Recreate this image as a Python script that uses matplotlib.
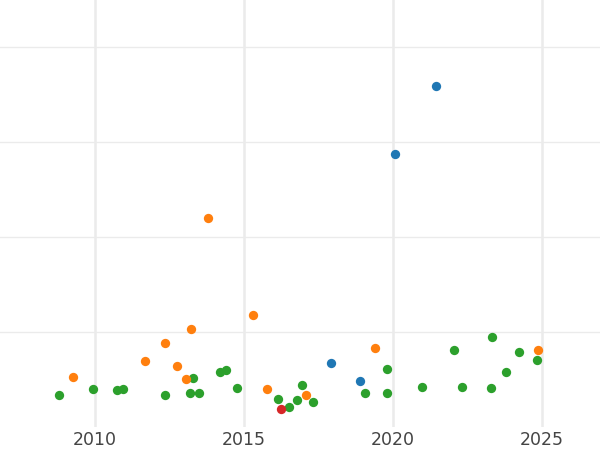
import matplotlib
matplotlib.use('Agg')
import matplotlib.pyplot as plt

# series data (year, value)
blue_x = [2017.93, 2018.90, 2020.06, 2021.45]
blue_y = [6.71, 4.84, 28.74, 35.93]

orange_x = [2009.25, 2011.69, 2012.36, 2012.76, 2013.05, 2013.21, 2013.80,
            2015.30, 2015.77, 2017.08, 2019.39, 2024.86]
orange_y = [5.26, 6.92, 8.87, 6.45, 5.08, 10.32, 22.03,
            11.79, 3.97, 3.40, 8.35, 8.07]

green_x = [2008.80, 2009.94, 2010.75, 2010.95, 2012.36, 2013.19, 2013.30,
           2013.50, 2014.19, 2014.40, 2014.78, 2016.15, 2016.52, 2016.79,
           2016.95, 2017.33, 2019.07, 2019.79, 2019.81, 2020.96, 2022.06,
           2022.32, 2023.30, 2023.32, 2023.80, 2024.22, 2024.83]
green_y = [3.40, 4.03, 3.89, 3.97, 3.40, 3.61, 5.16,
           3.55, 5.76, 5.97, 4.07, 2.95, 2.14, 2.84,
           4.42, 2.60, 3.61, 6.07, 3.58, 4.21, 8.11,
           4.18, 4.07, 9.47, 5.76, 7.93, 7.02]

red_x = [2016.24]
red_y = [1.93]

xticks = [2010, 2015, 2020, 2025]
yticks = [10, 20, 30, 40]

fig = plt.figure(figsize=(6, 4.5), dpi=100)
ax = fig.add_axes([0, 23 / 450, 1, 427 / 450])

for xs, ys, c in [(green_x, green_y, '#2ca02c'),
                  (orange_x, orange_y, '#ff7f0e'),
                  (blue_x, blue_y, '#1f77b4'),
                  (red_x, red_y, '#d62728')]:
    ax.scatter(xs, ys, s=45, color=c, linewidths=0, zorder=3)

ax.set_xlim(2006.81, 2026.95)
ax.set_ylim(0, 44.95)
ax.set_xticks(xticks)
ax.set_yticks(yticks)
ax.set_yticklabels([])
ax.tick_params(axis='both', length=0)
ax.tick_params(axis='x', labelsize=12.5, labelcolor='#444444', pad=3)
ax.grid(axis='x', color='#ebebeb', linewidth=1.8)
ax.grid(axis='y', color='#ebebeb', linewidth=1.0)
ax.set_axisbelow(True)
for s in ax.spines.values():
    s.set_visible(False)

fig.savefig('out.png', dpi=100)
